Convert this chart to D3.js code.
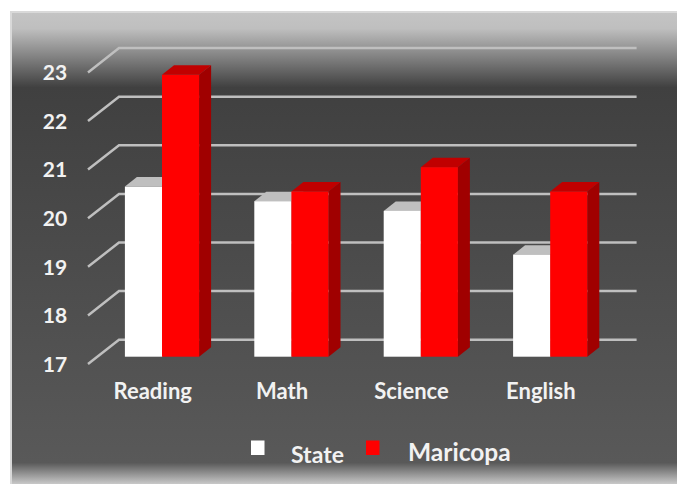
<!DOCTYPE html>
<html>
<head>
<meta charset="utf-8">
<script src="https://cdnjs.cloudflare.com/ajax/libs/d3/7.8.5/d3.min.js"></script>
<style>
html, body { margin: 0; padding: 0; background: #fff; }
svg { display: block; }
text { font-family: Lato, "Open Sans", sans-serif; font-weight: bold; fill: #f2f2f2; }
</style>
</head>
<body>
<div id="chart"></div>
<script>
var categories = ["Reading", "Math", "Science", "English"];
var series_names = ["State", "Maricopa"];
var state_values = [20.5, 20.2, 20.0, 19.1];
var maricopa_values = [22.8, 20.4, 20.9, 20.4];
var y_ticks = [17, 18, 19, 20, 21, 22, 23];

var width = 677, height = 484;
var svg = d3.select("#chart").append("svg")
	.attr("width", width)
	.attr("height", height);

// panel background
var defs = svg.append("defs");
var grad = defs.append("linearGradient")
	.attr("id", "panel_grad")
	.attr("x1", 0).attr("y1", 0).attr("x2", 0).attr("y2", 1);
[[0, "#c4c4c4"], [0.035, "#bfbfbf"], [0.16, "#404040"], [0.955, "#595959"], [1, "#c8c8c8"]].forEach(function(s){
	grad.append("stop").attr("offset", s[0]).attr("stop-color", s[1]);
});
svg.append("rect")
	.attr("x", 10.5).attr("y", 12).attr("width", width - 10.5).attr("height", height - 12)
	.attr("fill", "url(#panel_grad)");
svg.append("path")
	.attr("d", "M11,484V12H677")
	.attr("fill", "none")
	.attr("stroke", "#d9d9d9")
	.attr("stroke-width", 2);

// 3d offsets: floor depth, where the bars stand, and the bars own depth
var depth_x = 31, depth_y = 24.3;
var bar_dx = 9.3, bar_dy = 7.3;
var box_x = 12, box_y = 9.5;

var xScale = d3.scaleBand().domain(categories).range([88, 605.6]);
var yScale = d3.scaleLinear().domain([17, 23]).range([364, 72.4]);

function front_x(d){ return xScale(d) + bar_dx; }
function front_y(v){ return yScale(v) - bar_dy; }

// gridlines run along the side wall then the back wall
svg.append("g").classed("grid", true)
	.selectAll("path")
	.data(y_ticks)
	.enter()
	.append("path")
	.attr("d", function(d){
		var y = yScale(d);
		return "M" + xScale.range()[0] + "," + y +
			"L" + (xScale.range()[0] + depth_x) + "," + (y - depth_y) +
			"H" + (xScale.range()[1] + depth_x);
	})
	.attr("fill", "none")
	.attr("stroke", "#bfbfbf")
	.attr("stroke-width", 2.5);

// y axis labels
var yAxis = d3.axisLeft(yScale).tickValues(y_ticks).tickFormat(d3.format("d")).tickSize(0);
var y_g = svg.append("g")
	.attr("transform", "translate(88,0)")
	.call(yAxis);
y_g.select(".domain").remove();
y_g.selectAll("text").style("font-size", "21px").attr("text-anchor", "middle").attr("x", -33).attr("y", 0.5).attr("dy", "0.32em");

// x axis labels
var xAxis = d3.axisBottom(xScale).tickSize(0).tickPadding(0);
var x_g = svg.append("g")
	.attr("transform", "translate(0,392)")
	.call(xAxis);
x_g.select(".domain").remove();
x_g.selectAll("text").style("font-size", "22px").attr("y", 0).attr("dy", "0.32em");

var bar_w = 37.1;
var bars = [
	{name: series_names[0], values: state_values, off: -37.1, front: "#ffffff", top: "#bfbfbf", side: "#bfbfbf"},
	{name: series_names[1], values: maricopa_values, off: 0, front: "#ff0000", top: "#c00000", side: "#a00000"}
];

function center(d){ return front_x(d) + xScale.bandwidth() / 2; }

bars.forEach(function(s){
	var g = svg.append("g").classed("series", true);
	var rows = categories.map(function(c, i){ return {c: c, v: s.values[i]}; });
	// side face
	g.selectAll("path.side").data(rows).enter().append("path")
		.classed("side", true)
		.attr("fill", s.side)
		.attr("d", function(d){
			var x = center(d.c) + s.off + bar_w, y0 = front_y(17), y1 = front_y(d.v);
			return "M" + x + "," + y0 + "V" + y1 + "l" + box_x + "," + (-box_y) + "V" + (y0 - box_y) + "Z";
		});
	// top face
	g.selectAll("path.top").data(rows).enter().append("path")
		.classed("top", true)
		.attr("fill", s.top)
		.attr("d", function(d){
			var x = center(d.c) + s.off, y1 = front_y(d.v);
			return "M" + x + "," + y1 + "l" + box_x + "," + (-box_y) + "h" + bar_w + "l" + (-box_x) + "," + box_y + "Z";
		});
	// front face
	g.selectAll("rect.front").data(rows).enter().append("rect")
		.classed("front", true)
		.attr("fill", s.front)
		.attr("x", function(d){ return center(d.c) + s.off; })
		.attr("y", function(d){ return front_y(d.v); })
		.attr("width", bar_w)
		.attr("height", function(d){ return front_y(17) - front_y(d.v); });
});

// legend
var legend = [
	{name: series_names[0], color: "#ffffff", kx: 251, tx: 291, ty: 456, size: 23},
	{name: series_names[1], color: "#ff0000", kx: 366, tx: 408, ty: 453, size: 24.5}
];
var lg = svg.append("g").selectAll("g").data(legend).enter().append("g");
lg.append("rect")
	.attr("x", function(d){ return d.kx; })
	.attr("y", 440.5)
	.attr("width", 13.5)
	.attr("height", 14.5)
	.attr("fill", function(d){ return d.color; });
lg.append("text")
	.attr("x", function(d){ return d.tx; })
	.attr("y", function(d){ return d.ty; })
	.attr("dy", "0.32em")
	.style("font-size", function(d){ return d.size + "px"; })
	.text(function(d){ return d.name; });
</script>
</body>
</html>
